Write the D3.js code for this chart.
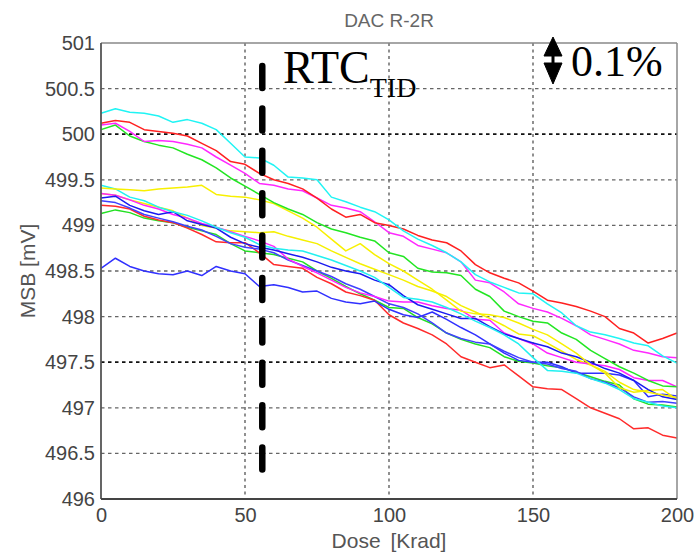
<!DOCTYPE html>
<html>
<head>
<meta charset="utf-8">
<script src="https://cdn.jsdelivr.net/npm/d3@7"></script>
<style>
body { margin: 0; background: #fff; }
text { font-family: "Liberation Sans", Arial, sans-serif; }
</style>
</head>
<body>
<svg id="chart"></svg>
<script>
// dose axis (Krad), one reading every 5 Krad
const dose = [0, 5, 10, 15, 20, 25, 30, 35, 40, 45, 50, 55, 60, 65, 70, 75, 80, 85, 90, 95, 100,
  105, 110, 115, 120, 125, 130, 135, 140, 145, 150, 155, 160, 165, 170, 175, 180, 185, 190, 195, 200];

// MSB readings (mV) for each sample
const cyanTop = [500.23, 500.28, 500.24, 500.23, 500.2, 500.13, 500.16, 500.12, 500.05, 499.9, 499.75,
  499.74, 499.66, 499.53, 499.52, 499.5, 499.31, 499.26, 499.2, 499.15, 499.06, 498.94, 498.85, 498.78,
  498.7, 498.6, 498.46, 498.38, 498.32, 498.26, 498.25, 498.14, 498.04, 497.9, 497.83, 497.8, 497.76,
  497.71, 497.68, 497.57, 497.49];
const redTop = [500.12, 500.15, 500.13, 500.05, 500.03, 500.01, 499.98, 499.9, 499.82, 499.7, 499.67,
  499.57, 499.5, 499.46, 499.4, 499.3, 499.18, 499.09, 499.12, 499.03, 499.0, 498.96, 498.89, 498.84,
  498.81, 498.72, 498.57, 498.48, 498.42, 498.37, 498.28, 498.18, 498.15, 498.11, 498.06, 498.0, 497.87,
  497.82, 497.71, 497.76, 497.82];
const magentaTop = [500.1, 500.12, 500.03, 499.92, 499.93, 499.92, 499.89, 499.85, 499.75, 499.66, 499.57,
  499.46, 499.44, 499.4, 499.38, 499.3, 499.22, 499.19, 499.15, 499.04, 498.92, 498.88, 498.78, 498.74,
  498.7, 498.6, 498.4, 498.37, 498.27, 498.14, 498.09, 498.05, 497.98, 497.9, 497.8, 497.75, 497.7,
  497.63, 497.6, 497.56, 497.55];
const greenTop = [500.05, 500.1, 499.98, 499.92, 499.88, 499.85, 499.78, 499.72, 499.63, 499.52, 499.43,
  499.34, 499.25, 499.18, 499.12, 499.03, 498.96, 498.92, 498.87, 498.83, 498.7, 498.66, 498.53, 498.49,
  498.48, 498.45, 498.3, 498.22, 498.06, 498.0, 497.95, 497.93, 497.82, 497.75, 497.63, 497.54, 497.45,
  497.38, 497.3, 497.24, 497.23];
const yellowTop = [499.41, 499.4, 499.39, 499.38, 499.4, 499.41, 499.42, 499.44, 499.34, 499.32, 499.31,
  499.28, 499.24, 499.16, 499.08, 498.98, 498.85, 498.72, 498.8, 498.68, 498.58, 498.5, 498.4, 498.3,
  498.18, 498.06, 498.03, 498.02, 497.99, 497.93, 497.86, 497.8, 497.7, 497.6, 497.47, 497.4, 497.28,
  497.2, 497.17, 497.14, 497.11];
const cyanLow = [499.44, 499.4, 499.31, 499.27, 499.2, 499.15, 499.11, 499.05, 498.98, 498.92, 498.87,
  498.79, 498.75, 498.73, 498.72, 498.67, 498.62, 498.56, 498.5, 498.43, 498.32, 498.21, 498.19, 498.16,
  498.1, 498.03, 497.95, 497.88, 497.8, 497.7, 497.55, 497.41, 497.4, 497.38, 497.32, 497.27, 497.2,
  497.1, 497.06, 497.02, 497.0];
const magentaLow = [499.35, 499.33, 499.28, 499.22, 499.18, 499.12, 499.08, 499.02, 498.98, 498.93, 498.88,
  498.83, 498.77, 498.63, 498.55, 498.48, 498.4, 498.32, 498.26, 498.22, 498.17, 498.16, 498.16, 498.12,
  498.09, 498.07, 497.97, 497.96, 497.82, 497.76, 497.7, 497.6, 497.55, 497.5, 497.48, 497.46, 497.42,
  497.33, 497.3, 497.3, 497.23];
const blueA = [499.3, 499.32, 499.22, 499.16, 499.12, 499.15, 499.05, 499.01, 498.97, 498.87, 498.8,
  498.76, 498.73, 498.69, 498.65, 498.6, 498.54, 498.5, 498.47, 498.4, 498.35, 498.23, 498.13, 498.08,
  498.03, 497.98, 497.98, 497.89, 497.81, 497.76, 497.71, 497.67, 497.6, 497.56, 497.5, 497.43, 497.38,
  497.3, 497.2, 497.12, 497.09];
const blueB = [499.27, 499.25, 499.19, 499.12, 499.08, 499.04, 498.99, 498.95, 498.88, 498.8, 498.76,
  498.74, 498.7, 498.62, 498.56, 498.5, 498.44, 498.36, 498.3, 498.22, 498.14, 498.1, 498.03, 497.93,
  497.82, 497.76, 497.72, 497.7, 497.62, 497.55, 497.5, 497.48, 497.43, 497.4, 497.32, 497.28, 497.22,
  497.12, 497.06, 497.07, 497.05];
const blueLow = [498.53, 498.64, 498.55, 498.5, 498.47, 498.46, 498.5, 498.45, 498.55, 498.5, 498.47,
  498.33, 498.35, 498.32, 498.27, 498.28, 498.2, 498.16, 498.14, 498.17, 498.08, 498.02, 497.99, 498.05,
  497.97, 497.88, 497.8, 497.7, 497.6, 497.52, 497.5, 497.5, 497.45, 497.38, 497.38, 497.38, 497.36,
  497.3, 497.12, 497.15, 497.13];
const redLow = [499.22, 499.21, 499.18, 499.1, 499.06, 499.03, 498.97, 498.9, 498.82, 498.81, 498.81,
  498.7, 498.57, 498.55, 498.53, 498.43, 498.36, 498.27, 498.23, 498.18, 498.02, 497.93, 497.87, 497.8,
  497.7, 497.56, 497.5, 497.44, 497.47, 497.35, 497.23, 497.21, 497.2, 497.1, 497.0, 496.94, 496.88,
  496.77, 496.78, 496.7, 496.67];
const greenLow = [499.13, 499.17, 499.14, 499.08, 499.05, 499.03, 498.98, 498.94, 498.9, 498.8, 498.72,
  498.7, 498.68, 498.64, 498.6, 498.5, 498.42, 498.33, 498.25, 498.18, 498.1, 498.09, 497.99, 497.92,
  497.82, 497.75, 497.7, 497.66, 497.56, 497.51, 497.49, 497.46, 497.44, 497.39, 497.34, 497.29, 497.25,
  497.1, 497.04, 497.03, 497.01];
const yellowLow = [499.35, 499.33, 499.28, 499.24, 499.2, 499.16, 499.08, 499.0, 498.97, 498.94, 498.93,
  498.92, 498.93, 498.88, 498.84, 498.8, 498.72, 498.65, 498.58, 498.52, 498.46, 498.4, 498.33, 498.28,
  498.22, 498.12, 498.05, 497.98, 497.9, 497.81, 497.79, 497.71, 497.62, 497.53, 497.47, 497.38, 497.22,
  497.17, 497.19, 497.2, 497.09];

const seriesList = [greenLow, redLow, blueLow, blueB, yellowLow, magentaLow, blueA, cyanLow,
  yellowTop, greenTop, magentaTop, redTop, cyanTop];
const seriesColors = ["#22e022", "#ff2a2a", "#3030ff", "#4040ff", "#f5f000", "#ff22ff", "#1a1af0", "#22f0f0",
  "#f8f000", "#22e622", "#ff28ff", "#ff2020", "#20f4f4"];

const xTicks = [0, 50, 100, 150, 200];
const yTicks = [496, 496.5, 497, 497.5, 498, 498.5, 499, 499.5, 500, 500.5, 501];
const darkRows = [500, 497.5];   // these grid rows came out darker in the original
const rtcDose = 56;              // dashed marker position

const width = 695, height = 555;
const plot_left = 101, plot_right = 677, plot_top = 43, plot_bottom = 499;

let svg = d3.select("#chart")
  .attr("width", width)
  .attr("height", height);

svg.append("rect").attr("width", width).attr("height", height).attr("fill", "#fff");

const x = d3.scaleLinear().domain([0, 200]).range([plot_left, plot_right]);
const y = d3.scaleLinear().domain([496, 501]).range([plot_bottom, plot_top]);

// grid
let grid = svg.append("g");
grid.selectAll(".vgrid")
  .data(xTicks.slice(1, -1))
  .enter().append("line")
  .attr("x1", d => x(d)).attr("x2", d => x(d))
  .attr("y1", plot_top).attr("y2", plot_bottom)
  .attr("stroke", "#555").attr("stroke-width", 1.3)
  .attr("stroke-dasharray", "3,3.5");

grid.selectAll(".hgrid")
  .data(yTicks.slice(1, -1))
  .enter().append("line")
  .attr("x1", plot_left).attr("x2", plot_right)
  .attr("y1", d => y(d)).attr("y2", d => y(d))
  .attr("stroke", d => darkRows.includes(d) ? "#111" : "#666")
  .attr("stroke-width", d => darkRows.includes(d) ? 1.8 : 1.3)
  .attr("stroke-dasharray", "3.5,3.5");

// data lines
const line = d3.line()
  .x((d, i) => x(dose[i]))
  .y(d => y(d));

svg.append("g")
  .selectAll("path")
  .data(seriesList)
  .enter().append("path")
  .attr("d", line)
  .attr("fill", "none")
  .attr("stroke", (d, i) => seriesColors[i])
  .attr("stroke-width", 1.5)
  .attr("stroke-linejoin", "round");

// box
svg.append("line").attr("x1", plot_left).attr("x2", plot_right).attr("y1", plot_top).attr("y2", plot_top)
  .attr("stroke", "#888").attr("stroke-width", 1.5);
svg.append("line").attr("x1", plot_right).attr("x2", plot_right).attr("y1", plot_top).attr("y2", plot_bottom)
  .attr("stroke", "#888").attr("stroke-width", 1.5);
svg.append("line").attr("x1", plot_left).attr("x2", plot_left).attr("y1", plot_top).attr("y2", plot_bottom)
  .attr("stroke", "#555").attr("stroke-width", 1.8);
svg.append("line").attr("x1", plot_left).attr("x2", plot_right).attr("y1", plot_bottom).attr("y2", plot_bottom)
  .attr("stroke", "#444").attr("stroke-width", 1.8);

// axes (labels only)
const yAxis = d3.axisLeft(y)
  .tickValues(yTicks)
  .tickSize(0)
  .tickPadding(6)
  .tickFormat(d => d % 1 === 0 ? String(d) : d.toFixed(1));
const xAxis = d3.axisBottom(x)
  .tickValues(xTicks)
  .tickSize(0)
  .tickPadding(9)
  .tickFormat(d3.format("d"));

let gy = svg.append("g").attr("transform", "translate(" + plot_left + ",0)").call(yAxis);
let gx = svg.append("g").attr("transform", "translate(0," + plot_bottom + ")").call(xAxis);
[gx, gy].forEach(g => {
  g.select(".domain").remove();
  g.selectAll("text")
    .attr("fill", "#444")
    .style("font-size", "20px")
    .style("font-family", "'Liberation Sans', Arial, sans-serif");
});

// titles
svg.append("text")
  .attr("x", (plot_left + plot_right) / 2)
  .attr("y", 27)
  .attr("text-anchor", "middle")
  .attr("fill", "#666")
  .style("font-size", "19px")
  .text("DAC R-2R");

svg.append("text")
  .attr("x", (plot_left + plot_right) / 2)
  .attr("y", 548)
  .attr("text-anchor", "middle")
  .attr("fill", "#555")
  .style("font-size", "21px")
  .style("word-spacing", "4px")
  .text("Dose [Krad]");

svg.append("text")
  .attr("transform", "translate(35," + (plot_top + plot_bottom) / 2 + ") rotate(-90)")
  .attr("text-anchor", "middle")
  .attr("fill", "#555")
  .style("font-size", "21px")
  .text("MSB [mV]");

// RTC_TID marker
svg.append("line")
  .attr("x1", x(rtcDose)).attr("x2", x(rtcDose))
  .attr("y1", 66).attr("y2", 471)
  .attr("stroke", "#000")
  .attr("stroke-width", 6.5)
  .attr("stroke-linecap", "round")
  .attr("stroke-dasharray", "22,20.4");

let rtc = svg.append("text")
  .attr("x", 283)
  .attr("y", 83)
  .attr("fill", "#000")
  .style("font-family", "'Liberation Serif', 'Times New Roman', serif")
  .style("font-size", "46px");
rtc.append("tspan").text("RTC");
rtc.append("tspan")
  .attr("dy", 14)
  .style("font-size", "28px")
  .text("TID");

// 0.1% scale arrow
const ax = 553;
let arrow = svg.append("g").attr("fill", "#000").attr("stroke", "#000");
arrow.append("line")
  .attr("x1", ax).attr("x2", ax)
  .attr("y1", 50).attr("y2", 70)
  .attr("stroke-width", 3);
arrow.append("path")
  .attr("d", "M" + ax + ",37 L" + (ax - 9) + ",56 L" + (ax + 9) + ",56 Z")
  .attr("stroke-width", 1);
arrow.append("path")
  .attr("d", "M" + ax + ",84 L" + (ax - 9) + ",63 L" + (ax + 9) + ",63 Z")
  .attr("stroke-width", 1);

svg.append("text")
  .attr("x", 571)
  .attr("y", 76)
  .attr("fill", "#000")
  .style("font-family", "'Liberation Serif', 'Times New Roman', serif")
  .style("font-size", "44px")
  .text("0.1%");
</script>
</body>
</html>
